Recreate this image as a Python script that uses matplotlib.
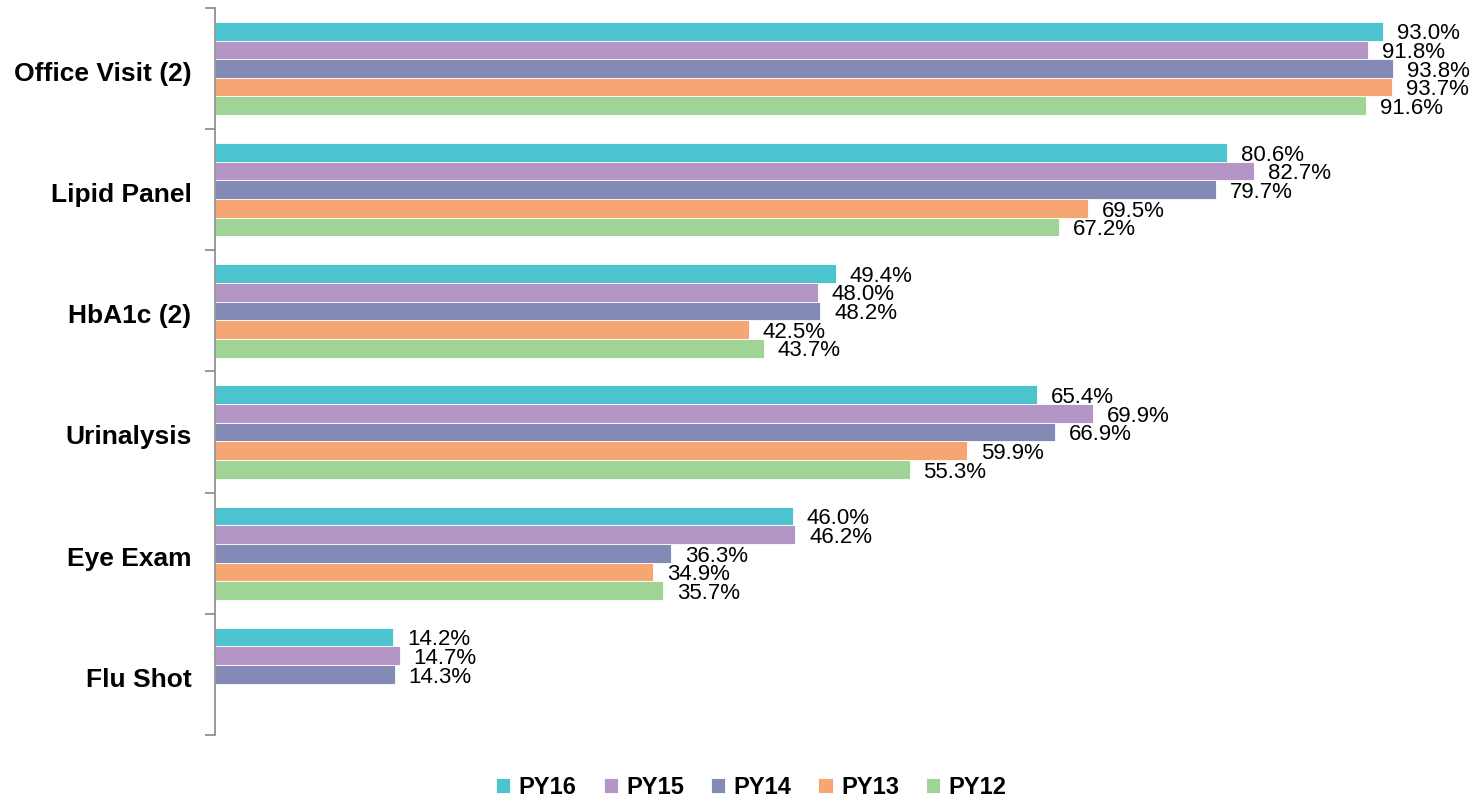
import matplotlib.pyplot as plt
import matplotlib.transforms as mtransforms
import numpy as np

plt.rcParams['font.family'] = ['Liberation Sans', 'DejaVu Sans']

# Datos
categorias = ['Office Visit (2)', 'Lipid Panel', 'HbA1c (2)', 'Urinalysis', 'Eye Exam', 'Flu Shot']
series = ['PY16', 'PY15', 'PY14', 'PY13', 'PY12']
py16 = [93.0, 80.6, 49.4, 65.4, 46.0, 14.2]
py15 = [91.8, 82.7, 48.0, 69.9, 46.2, 14.7]
py14 = [93.8, 79.7, 48.2, 66.9, 36.3, 14.3]
py13 = [93.7, 69.5, 42.5, 59.9, 34.9, None]
py12 = [91.6, 67.2, 43.7, 55.3, 35.7, None]
colores = ['#4BC4CF', '#B396C6', '#828AB5', '#F5A673', '#A0D396']

valores = [py16, py15, py14, py13, py12]

fig = plt.figure(figsize=(14.76, 7.99), dpi=100)
ax = fig.add_axes([0.1457, 0.0801, 0.851, 0.91])

n = len(categorias)
alto = 0.154
centros = np.arange(n)

for i, (nombre, vals, color) in enumerate(zip(series, valores, colores)):
    offset = (i - 2) * alto
    for j, v in enumerate(vals):
        if v is None:
            continue
        y = centros[j] + offset
        ax.barh(y, v, height=alto, color=color, edgecolor='white', linewidth=0.6,
                label=nombre if j == 0 else None)
        ax.annotate(f'{v:.1f}%', xy=(v, y), xytext=(10, -2), textcoords='offset points',
                    va='center', ha='left', fontsize=16, color='black')

ax.set_xlim(0, 100)
ax.set_ylim(n - 0.5, -0.5)

# Ejes
ax.set_yticks(np.arange(-0.5, n, 1.0))
ax.set_yticklabels([])
ax.set_yticks(centros, minor=True)
ax.set_yticklabels(categorias, minor=True, fontsize=19, fontweight='bold')
ax.tick_params(axis='y', which='major', length=7, width=1.2, color='#888888', direction='out')
ax.tick_params(axis='y', which='minor', length=0, pad=17)
# bajar un poco las etiquetas de categoria
desplaza = mtransforms.ScaledTranslation(0, -2 / 72, fig.dpi_scale_trans)
for etiqueta in ax.get_yticklabels(minor=True):
    etiqueta.set_transform(etiqueta.get_transform() + desplaza)
ax.set_xticks([])
for lado in ['top', 'right', 'bottom']:
    ax.spines[lado].set_visible(False)
ax.spines['left'].set_color('#888888')
ax.spines['left'].set_linewidth(1.2)

# Leyenda
fig.legend(loc='center', bbox_to_anchor=(0.509, 0.014), ncol=5, frameon=False,
           prop={'size': 17, 'weight': 'bold'}, handlelength=0.6, handleheight=0.6,
           handletextpad=0.35, columnspacing=1.15)

fig.savefig('out.png', dpi=100)
